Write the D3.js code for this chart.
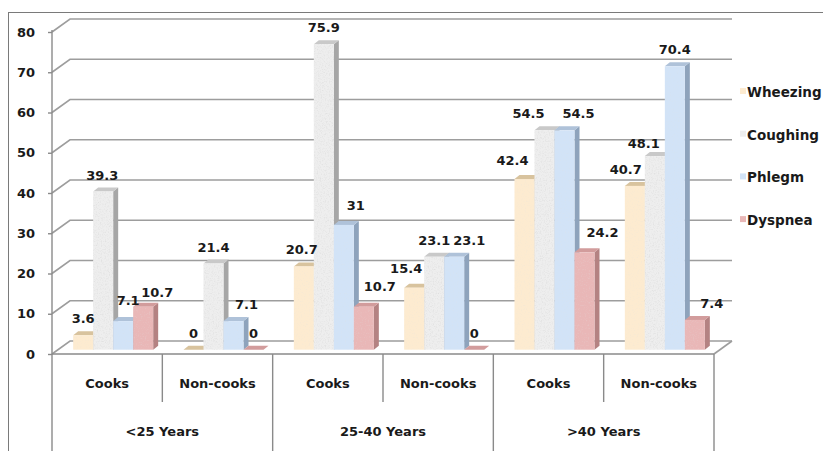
<!DOCTYPE html>
<html>
<head>
<meta charset="utf-8">
<script src="https://cdn.jsdelivr.net/npm/d3@7"></script>
<style>
    body { margin: 0; background: #fff; }
    svg { display: block; }
    text { font-family: "DejaVu Sans", Verdana, sans-serif; font-weight: bold; fill: #1a1a1a; }
</style>
</head>
<body>
<div id="chart"></div>
<script>
// data
var groups = ["<25 Years", "25-40 Years", ">40 Years"];
var subgroups = ["Cooks", "Non-cooks"];
var seriesNames = ["Wheezing", "Coughing", "Phlegm", "Dyspnea"];
var wheezing = [3.6, 0, 20.7, 15.4, 42.4, 40.7];
var coughing = [39.3, 21.4, 75.9, 23.1, 54.5, 48.1];
var phlegm = [7.1, 7.1, 31, 23.1, 54.5, 70.4];
var dyspnea = [10.7, 0, 10.7, 0, 24.2, 7.4];
var yTicks = [0, 10, 20, 30, 40, 50, 60, 70, 80];

var width = 823, height = 451;

// faces: front, top, side
var colours = {
    Wheezing: ["#fdebd0", "#d8c39e", "#c9b38c"],
    Coughing: ["#eeeeee", "#c9c9c9", "#a6a6a6"],
    Phlegm: ["#d2e3f7", "#afc2d9", "#8ea3bc"],
    Dyspnea: ["#e9b7b7", "#d29c9c", "#b48282"]
};

// little shifts so the labels sit like in the original
var labelNudge = {
    Wheezing: [[0, 0], [0, 0], [-2, 0], [-8, -3], [-12, -2], [-9, 0]],
    Coughing: [[-1, 0], [0, 0], [0, 0], [0, 0], [-16, 0], [-11, 4]],
    Phlegm: [[5, -4], [13, 0], [12, -3], [15, 0], [14, 0], [0, 0]],
    Dyspnea: [[14, 2], [0, 0], [16, -4], [0, 0], [18, -3], [17, 0]]
};

var values = { Wheezing: wheezing, Coughing: coughing, Phlegm: phlegm, Dyspnea: dyspnea };

var plot = { left: 52, right: 714, top: 32, bottom: 354 };
var floorDepth = { dx: 18, dy: -13 };
var barShift = { dx: 6, dy: -4.3 };
var barDepth = { dx: 5, dy: -4 };

var svg = d3.select("#chart").append("svg")
    .attr("width", width)
    .attr("height", height);

var defs = svg.append("defs");

function grain(id, level, slope, offset) {
    var f = defs.append("filter").attr("id", id)
        .attr("x", 0).attr("y", 0).attr("width", 1).attr("height", 1);
    f.append("feTurbulence")
        .attr("type", "fractalNoise")
        .attr("baseFrequency", 0.75)
        .attr("numOctaves", 3)
        .attr("seed", 4)
        .attr("result", "noise");
    f.append("feColorMatrix")
        .attr("in", "noise")
        .attr("type", "matrix")
        .attr("values", "0 0 0 0 " + level + " 0 0 0 0 " + level + " 0 0 0 0 " + level + " " + slope + " 0 0 0 " + offset)
        .attr("result", "speck");
    f.append("feComposite")
        .attr("in", "speck").attr("in2", "SourceGraphic")
        .attr("operator", "in").attr("result", "clipped");
    var m = f.append("feMerge");
    m.append("feMergeNode").attr("in", "SourceGraphic");
    m.append("feMergeNode").attr("in", "clipped");
}
grain("grainStrong", 0.66, 1.3, -0.6);
grain("grainSoft", 0.75, 0.7, -0.38);

var cats = d3.range(groups.length * subgroups.length);

var x = d3.scaleBand()
    .domain(cats)
    .range([plot.left, plot.right]);

var xSub = d3.scaleBand()
    .domain(seriesNames)
    .range([0, x.bandwidth()])
    .paddingInner(0)
    .paddingOuter(0.758);

var xGroup = d3.scaleBand()
    .domain(groups)
    .range([plot.left, plot.right]);

var y = d3.scaleLinear()
    .domain([0, 80])
    .range([plot.bottom, plot.top]);

// outer frame
svg.append("rect")
    .attr("x", 8.5).attr("y", 12.5)
    .attr("width", 840).attr("height", 470)
    .attr("fill", "none")
    .attr("stroke", "#7a7a7a")
    .attr("stroke-width", 1);

// gridlines on the side wall and back wall
var grid = svg.append("g").attr("stroke", "#9d9d9d").attr("stroke-width", 1.6).attr("fill", "none");
yTicks.forEach(function(t) {
    var yy = y(t);
    grid.append("path")
        .attr("d", "M" + plot.left + "," + yy +
            "L" + (plot.left + floorDepth.dx) + "," + (yy + floorDepth.dy) +
            "L" + (plot.right + floorDepth.dx) + "," + (yy + floorDepth.dy));
});
// floor right edge
grid.append("path")
    .attr("d", "M" + plot.right + "," + plot.bottom + "L" + (plot.right + floorDepth.dx) + "," + (plot.bottom + floorDepth.dy));

// y axis
var yAxis = svg.append("g")
    .attr("transform", "translate(" + plot.left + ",0)")
    .call(d3.axisLeft(y).tickValues(yTicks).tickSize(4).tickPadding(13));
yAxis.select(".domain").remove();
yAxis.selectAll(".tick line").attr("stroke", "#8a8a8a").attr("stroke-width", 1.4);
yAxis.selectAll(".tick text")
    .style("font-size", "13px")
    .style("font-family", "DejaVu Sans, sans-serif")
    .style("font-weight", "bold")
    .attr("fill", "#1a1a1a");

// category table lines
var table = svg.append("g").attr("stroke", "#8a8a8a").attr("stroke-width", 1.4);
table.append("line")
    .attr("x1", plot.left).attr("x2", plot.left)
    .attr("y1", plot.top - 2).attr("y2", height);
table.append("line")
    .attr("x1", plot.left).attr("x2", plot.right)
    .attr("y1", plot.bottom).attr("y2", plot.bottom);
cats.forEach(function(c) {
    var xr = x(c) + x.bandwidth();
    var endOfGroup = (c + 1) % subgroups.length === 0;
    table.append("line")
        .attr("x1", xr).attr("x2", xr)
        .attr("y1", plot.bottom)
        .attr("y2", endOfGroup ? height : 402);
});

// bars, drawn left to right so each front covers the previous side
var bars = svg.append("g");
cats.forEach(function(c) {
    seriesNames.forEach(function(s) {
        var v = values[s][c];
        var col = colours[s];
        var x0 = x(c) + xSub(s) + barShift.dx;
        var x1 = x0 + xSub.bandwidth();
        var yt = y(v) + barShift.dy;
        var yb = y(0) + barShift.dy;
        var g = bars.append("g");
        g.append("path")
            .attr("d", "M" + x1 + "," + yt + "L" + (x1 + barDepth.dx) + "," + (yt + barDepth.dy) +
                "L" + (x1 + barDepth.dx) + "," + (yb + barDepth.dy) + "L" + x1 + "," + yb + "Z")
            .attr("fill", col[2]);
        g.append("path")
            .attr("d", "M" + x0 + "," + yt + "L" + (x0 + barDepth.dx) + "," + (yt + barDepth.dy) +
                "L" + (x1 + barDepth.dx) + "," + (yt + barDepth.dy) + "L" + x1 + "," + yt + "Z")
            .attr("fill", col[1]);
        if (yb - yt > 0.5) {
            g.append("rect")
                .attr("x", x0).attr("y", yt)
                .attr("width", x1 - x0).attr("height", yb - yt)
                .attr("fill", col[0])
                .attr("filter", s === "Coughing" ? "url(#grainStrong)" : "url(#grainSoft)");
        }
    });
});

// data labels
var labels = svg.append("g").style("font-size", "13px").attr("text-anchor", "middle");
cats.forEach(function(c) {
    seriesNames.forEach(function(s) {
        var v = values[s][c];
        var nudge = labelNudge[s][c];
        var cx = x(c) + xSub(s) + barShift.dx + xSub.bandwidth() / 2;
        var frontTop = y(v) + barShift.dy;
        labels.append("text")
            .attr("x", cx + nudge[0])
            .attr("y", frontTop - 12 + nudge[1])
            .text(v);
    });
});

// category labels
var catLabels = svg.append("g").style("font-size", "13px").attr("text-anchor", "middle");
cats.forEach(function(c) {
    catLabels.append("text")
        .attr("x", x(c) + x.bandwidth() / 2)
        .attr("y", 388)
        .text(subgroups[c % subgroups.length]);
});
groups.forEach(function(gname) {
    catLabels.append("text")
        .attr("x", xGroup(gname) + xGroup.bandwidth() / 2)
        .attr("y", 436)
        .text(gname);
});

// legend
var legend = svg.append("g").attr("transform", "translate(740,0)");
seriesNames.forEach(function(s, i) {
    var ly = 92 + i * 42.7;
    legend.append("rect")
        .attr("x", 0).attr("y", ly - 4)
        .attr("width", 6).attr("height", 6)
        .attr("fill", colours[s][0]);
    legend.append("text")
        .attr("x", 7)
        .attr("y", ly + 5)
        .style("font-size", "13.5px")
        .text(s);
});
</script>
</body>
</html>
